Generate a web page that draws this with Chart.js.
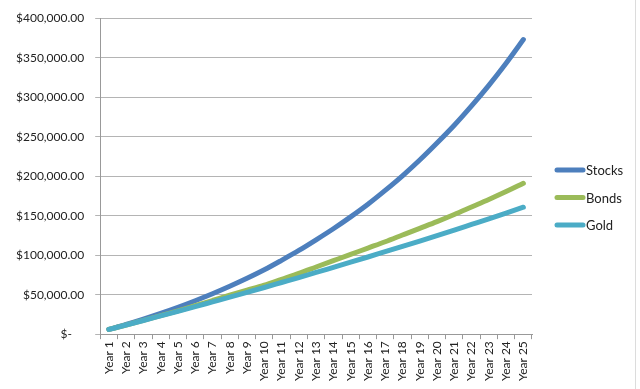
<!DOCTYPE html>
<html>
<head>
<meta charset="utf-8">
<script src="https://cdn.jsdelivr.net/npm/chart.js@4/dist/chart.umd.min.js"></script>
<style>
  html, body { margin: 0; padding: 0; background: #fff; }
  #wrap { width: 635px; height: 389px; border-right: 1px solid #dcdcdc; position: relative; }
</style>
</head>
<body>
<div id="wrap"><canvas id="chart"></canvas></div>
<script>
// Etiquetas del eje X
var years = ["Year 1", "Year 2", "Year 3", "Year 4", "Year 5", "Year 6", "Year 7", "Year 8",
  "Year 9", "Year 10", "Year 11", "Year 12", "Year 13", "Year 14", "Year 15", "Year 16",
  "Year 17", "Year 18", "Year 19", "Year 20", "Year 21", "Year 22", "Year 23", "Year 24", "Year 25"];

// Valores (aprox.)
var stocks = [6000, 12300, 19100, 26300, 34000, 42300, 51100, 60600, 70700, 81500,
  93500, 106000, 119500, 133500, 148500, 164500, 182000, 200500, 220500, 242000,
  264500, 289000, 315000, 343000, 373000];
var bonds = [6000, 11600, 17400, 23400, 29600, 36000, 42600, 49300, 55600, 62000,
  69500, 77000, 85000, 93000, 101000, 109000, 117000, 125500, 134000, 142500,
  151500, 161000, 170500, 180500, 191000];
var gold = [6000, 11600, 17300, 23100, 28900, 34800, 40800, 46800, 52900, 59100,
  65400, 71700, 78100, 84600, 91100, 97700, 104400, 111100, 117900, 124800,
  131800, 138900, 146000, 153300, 160700];

var seriesNames = ["Stocks", "Bonds", "Gold"];
var seriesColors = ["#4d7fbd", "#9bbb59", "#4bacc6"];

Chart.defaults.font.family = "Lato, 'Open Sans', sans-serif";
Chart.defaults.font.size = 12;
Chart.defaults.color = "#222";

// Leyenda dibujada a mano (estilo Excel)
var leyenda = {
  id: "leyenda",
  afterDraw: function(chart) {
    var ctx = chart.ctx;
    ctx.save();
    chart.data.datasets.forEach(function(ds, i) {
      var y = 170 + i * 27.5;
      ctx.strokeStyle = ds.borderColor;
      ctx.lineWidth = 5;
      ctx.lineCap = "round";
      ctx.beginPath();
      ctx.moveTo(557, y);
      ctx.lineTo(583, y);
      ctx.stroke();
      ctx.fillStyle = "#222";
      ctx.font = "13px Lato, sans-serif";
      ctx.textAlign = "left";
      ctx.textBaseline = "middle";
      ctx.fillText(ds.label, 586, y + 1);
    });
    ctx.restore();
  }
};

var data = {
  labels: years,
  datasets: [
    { label: seriesNames[0], data: stocks, borderColor: seriesColors[0], backgroundColor: seriesColors[0], order: 2 },
    { label: seriesNames[1], data: bonds, borderColor: seriesColors[1], backgroundColor: seriesColors[1], order: 1 },
    { label: seriesNames[2], data: gold, borderColor: seriesColors[2], backgroundColor: seriesColors[2], order: 0 }
  ]
};

var options = {
  responsive: true,
  maintainAspectRatio: false,
  animation: false,
  layout: { padding: { left: 5, right: 103, top: 10, bottom: 6 } },
  elements: {
    line: { borderWidth: 5, cubicInterpolationMode: "monotone", borderCapStyle: "round" },
    point: { radius: 0, hoverRadius: 0 }
  },
  plugins: { legend: { display: false }, tooltip: { enabled: false } },
  scales: {
    x: {
      offset: true,
      grid: { offset: true, drawOnChartArea: false, drawTicks: true, tickLength: 5, color: "#999" },
      border: { color: "#999" },
      ticks: { minRotation: 90, maxRotation: 90, autoSkip: false, padding: 2 }
    },
    y: {
      min: 0,
      max: 400000,
      grid: { color: "#b4b4b4", tickLength: 5 },
      border: { color: "#999" },
      ticks: {
        stepSize: 50000,
        padding: 11,
        callback: function(v) {
          if (v === 0) return "$-    ";
          return "$" + v.toLocaleString("en-US", { minimumFractionDigits: 2, maximumFractionDigits: 2 });
        }
      }
    }
  }
};

new Chart("chart", { type: "line", data: data, options: options, plugins: [leyenda] });
</script>
</body>
</html>
